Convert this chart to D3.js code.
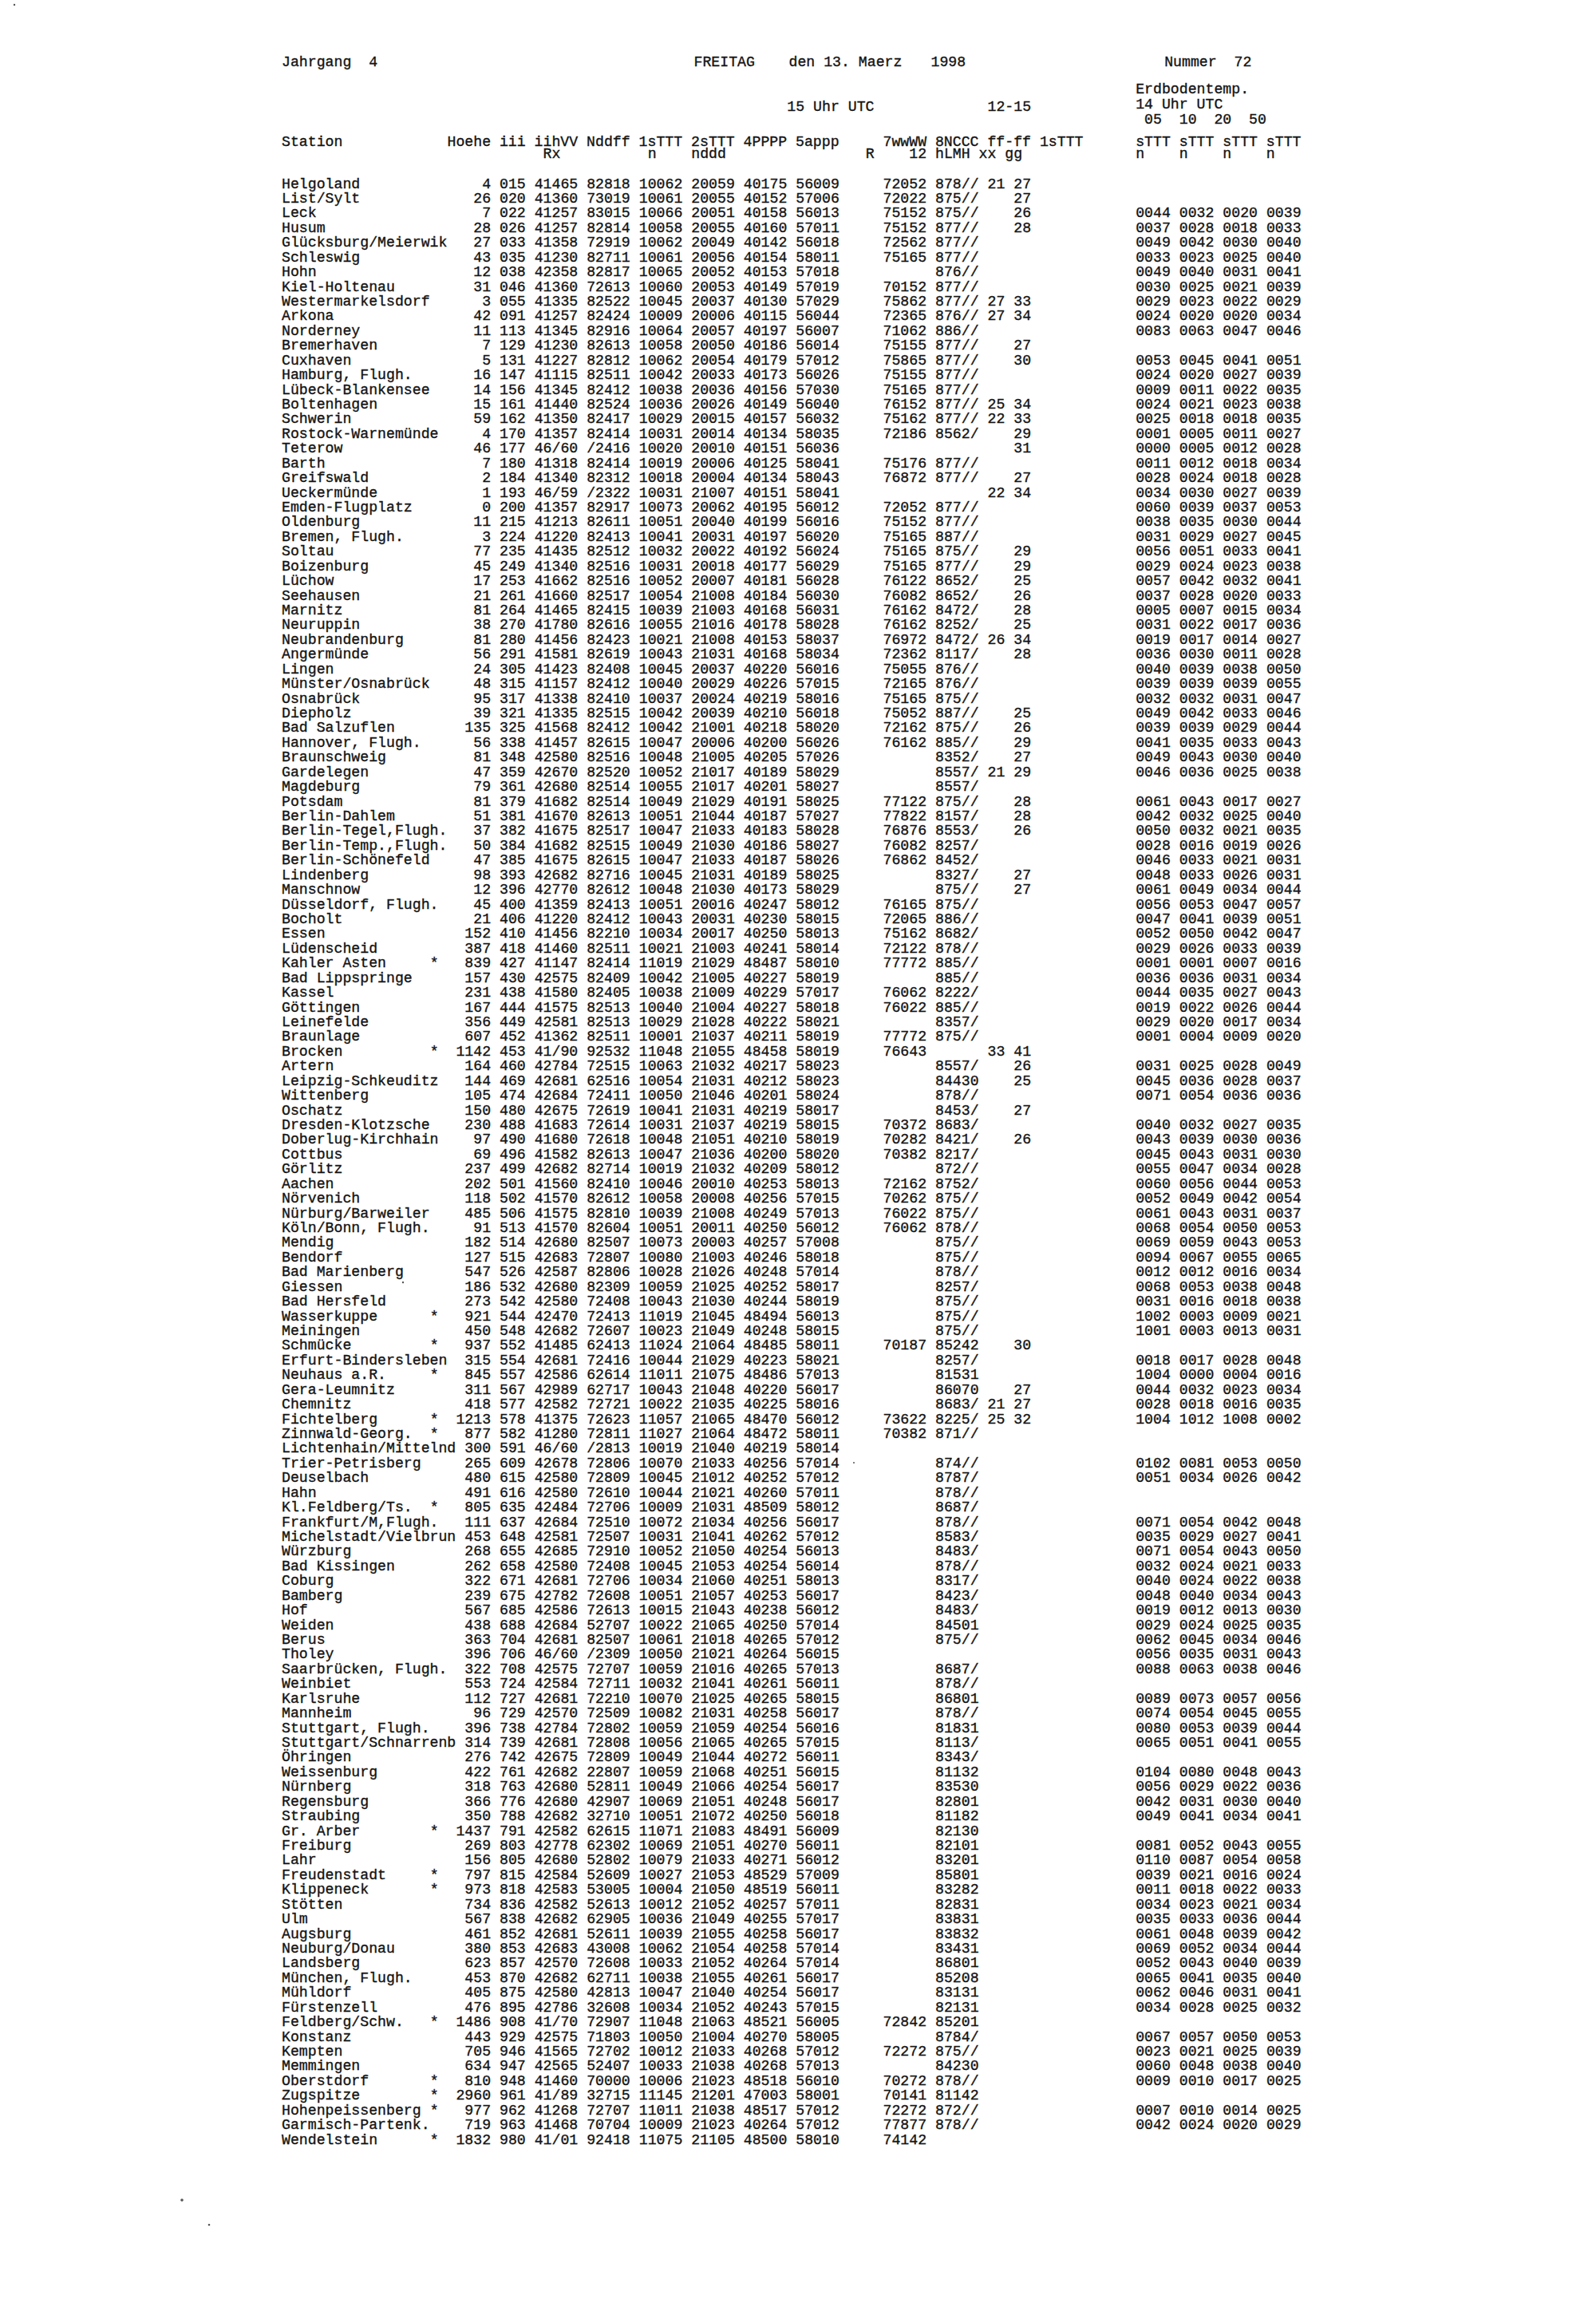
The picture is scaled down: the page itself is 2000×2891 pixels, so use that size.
<!DOCTYPE html>
<html>
<head>
<meta charset="utf-8">
<script src="https://cdn.jsdelivr.net/npm/d3@7"></script>
<style>
  body { margin: 0; background: #fff; }
  text { white-space: pre; }
</style>
</head>
<body>
<div id="page"></div>
<script>
// station list, one entry per table row
let stations = [
  "Helgoland","List/Sylt","Leck","Husum","Glücksburg/Meierwik","Schleswig","Hohn","Kiel-Holtenau","Westermarkelsdorf","Arkona",
  "Norderney","Bremerhaven","Cuxhaven","Hamburg, Flugh.","Lübeck-Blankensee","Boltenhagen","Schwerin","Rostock-Warnemünde","Teterow","Barth",
  "Greifswald","Ueckermünde","Emden-Flugplatz","Oldenburg","Bremen, Flugh.","Soltau","Boizenburg","Lüchow","Seehausen","Marnitz",
  "Neuruppin","Neubrandenburg","Angermünde","Lingen","Münster/Osnabrück","Osnabrück","Diepholz","Bad Salzuflen","Hannover, Flugh.","Braunschweig",
  "Gardelegen","Magdeburg","Potsdam","Berlin-Dahlem","Berlin-Tegel,Flugh.","Berlin-Temp.,Flugh.","Berlin-Schönefeld","Lindenberg","Manschnow","Düsseldorf, Flugh.",
  "Bocholt","Essen","Lüdenscheid","Kahler Asten","Bad Lippspringe","Kassel","Göttingen","Leinefelde","Braunlage","Brocken",
  "Artern","Leipzig-Schkeuditz","Wittenberg","Oschatz","Dresden-Klotzsche","Doberlug-Kirchhain","Cottbus","Görlitz","Aachen","Nörvenich",
  "Nürburg/Barweiler","Köln/Bonn, Flugh.","Mendig","Bendorf","Bad Marienberg","Giessen","Bad Hersfeld","Wasserkuppe","Meiningen","Schmücke",
  "Erfurt-Bindersleben","Neuhaus a.R.","Gera-Leumnitz","Chemnitz","Fichtelberg","Zinnwald-Georg.","Lichtenhain/Mittelnd","Trier-Petrisberg","Deuselbach","Hahn",
  "Kl.Feldberg/Ts.","Frankfurt/M,Flugh.","Michelstadt/Vielbrun","Würzburg","Bad Kissingen","Coburg","Bamberg","Hof","Weiden","Berus",
  "Tholey","Saarbrücken, Flugh.","Weinbiet","Karlsruhe","Mannheim","Stuttgart, Flugh.","Stuttgart/Schnarrenb","Öhringen","Weissenburg","Nürnberg",
  "Regensburg","Straubing","Gr. Arber","Freiburg","Lahr","Freudenstadt","Klippeneck","Stötten","Ulm","Augsburg",
  "Neuburg/Donau","Landsberg","München, Flugh.","Mühldorf","Fürstenzell","Feldberg/Schw.","Konstanz","Kempten","Memmingen","Oberstdorf",
  "Zugspitze","Hohenpeissenberg","Garmisch-Partenk.","Wendelstein"
];

// mountain stations marked with a star
let starred = ["Kahler Asten","Brocken","Wasserkuppe","Schmücke","Neuhaus a.R.","Fichtelberg","Zinnwald-Georg.",
  "Kl.Feldberg/Ts.","Gr. Arber","Freudenstadt","Klippeneck","Feldberg/Schw.","Oberstdorf","Zugspitze","Hohenpeissenberg","Wendelstein"];

let hoehe = [
  "4","26","7","28","27","43","12","31","3","42",
  "11","7","5","16","14","15","59","4","46","7",
  "2","1","0","11","3","77","45","17","21","81",
  "38","81","56","24","48","95","39","135","56","81",
  "47","79","81","51","37","50","47","98","12","45",
  "21","152","387","839","157","231","167","356","607","1142",
  "164","144","105","150","230","97","69","237","202","118",
  "485","91","182","127","547","186","273","921","450","937",
  "315","845","311","418","1213","877","300","265","480","491",
  "805","111","453","268","262","322","239","567","438","363",
  "396","322","553","112","96","396","314","276","422","318",
  "366","350","1437","269","156","797","973","734","567","461",
  "380","623","453","405","476","1486","443","705","634","810",
  "2960","977","719","1832"
];

let iii = [
  "015","020","022","026","033","035","038","046","055","091",
  "113","129","131","147","156","161","162","170","177","180",
  "184","193","200","215","224","235","249","253","261","264",
  "270","280","291","305","315","317","321","325","338","348",
  "359","361","379","381","382","384","385","393","396","400",
  "406","410","418","427","430","438","444","449","452","453",
  "460","469","474","480","488","490","496","499","501","502",
  "506","513","514","515","526","532","542","544","548","552",
  "554","557","567","577","578","582","591","609","615","616",
  "635","637","648","655","658","671","675","685","688","704",
  "706","708","724","727","729","738","739","742","761","763",
  "776","788","791","803","805","815","818","836","838","852",
  "853","857","870","875","895","908","929","946","947","948",
  "961","962","963","980"
];

let iihVV = [
  "41465","41360","41257","41257","41358","41230","42358","41360","41335","41257",
  "41345","41230","41227","41115","41345","41440","41350","41357","46/60","41318",
  "41340","46/59","41357","41213","41220","41435","41340","41662","41660","41465",
  "41780","41456","41581","41423","41157","41338","41335","41568","41457","42580",
  "42670","42680","41682","41670","41675","41682","41675","42682","42770","41359",
  "41220","41456","41460","41147","42575","41580","41575","42581","41362","41/90",
  "42784","42681","42684","42675","41683","41680","41582","42682","41560","41570",
  "41575","41570","42680","42683","42587","42680","42580","42470","42682","41485",
  "42681","42586","42989","42582","41375","41280","46/60","42678","42580","42580",
  "42484","42684","42581","42685","42580","42681","42782","42586","42684","42681",
  "46/60","42575","42584","42681","42570","42784","42681","42675","42682","42680",
  "42680","42682","42582","42778","42680","42584","42583","42582","42682","42681",
  "42683","42570","42682","42580","42786","41/70","42575","41565","42565","41460",
  "41/89","41268","41468","41/01"
];

let nddff = [
  "82818","73019","83015","82814","72919","82711","82817","72613","82522","82424",
  "82916","82613","82812","82511","82412","82524","82417","82414","/2416","82414",
  "82312","/2322","82917","82611","82413","82512","82516","82516","82517","82415",
  "82616","82423","82619","82408","82412","82410","82515","82412","82615","82516",
  "82520","82514","82514","82613","82517","82515","82615","82716","82612","82413",
  "82412","82210","82511","82414","82409","82405","82513","82513","82511","92532",
  "72515","62516","72411","72619","72614","72618","82613","82714","82410","82612",
  "82810","82604","82507","72807","82806","82309","72408","72413","72607","62413",
  "72416","62614","62717","72721","72623","72811","/2813","72806","72809","72610",
  "72706","72510","72507","72910","72408","72706","72608","72613","52707","82507",
  "/2309","72707","72711","72210","72509","72802","72808","72809","22807","52811",
  "42907","32710","62615","62302","52802","52609","53005","52613","62905","52611",
  "43008","72608","62711","42813","32608","72907","71803","72702","52407","70000",
  "32715","72707","70704","92418"
];

let sTTT1 = [
  "10062","10061","10066","10058","10062","10061","10065","10060","10045","10009",
  "10064","10058","10062","10042","10038","10036","10029","10031","10020","10019",
  "10018","10031","10073","10051","10041","10032","10031","10052","10054","10039",
  "10055","10021","10043","10045","10040","10037","10042","10042","10047","10048",
  "10052","10055","10049","10051","10047","10049","10047","10045","10048","10051",
  "10043","10034","10021","11019","10042","10038","10040","10029","10001","11048",
  "10063","10054","10050","10041","10031","10048","10047","10019","10046","10058",
  "10039","10051","10073","10080","10028","10059","10043","11019","10023","11024",
  "10044","11011","10043","10022","11057","11027","10019","10070","10045","10044",
  "10009","10072","10031","10052","10045","10034","10051","10015","10022","10061",
  "10050","10059","10032","10070","10082","10059","10056","10049","10059","10049",
  "10069","10051","11071","10069","10079","10027","10004","10012","10036","10039",
  "10062","10033","10038","10047","10034","11048","10050","10012","10033","10006",
  "11145","11011","10009","11075"
];

let sTTT2 = [
  "20059","20055","20051","20055","20049","20056","20052","20053","20037","20006",
  "20057","20050","20054","20033","20036","20026","20015","20014","20010","20006",
  "20004","21007","20062","20040","20031","20022","20018","20007","21008","21003",
  "21016","21008","21031","20037","20029","20024","20039","21001","20006","21005",
  "21017","21017","21029","21044","21033","21030","21033","21031","21030","20016",
  "20031","20017","21003","21029","21005","21009","21004","21028","21037","21055",
  "21032","21031","21046","21031","21037","21051","21036","21032","20010","20008",
  "21008","20011","20003","21003","21026","21025","21030","21045","21049","21064",
  "21029","21075","21048","21035","21065","21064","21040","21033","21012","21021",
  "21031","21034","21041","21050","21053","21060","21057","21043","21065","21018",
  "21021","21016","21041","21025","21031","21059","21065","21044","21068","21066",
  "21051","21072","21083","21051","21033","21053","21050","21052","21049","21055",
  "21054","21052","21055","21040","21052","21063","21004","21033","21038","21023",
  "21201","21038","21023","21105"
];

let pppp4 = [
  "40175","40152","40158","40160","40142","40154","40153","40149","40130","40115",
  "40197","40186","40179","40173","40156","40149","40157","40134","40151","40125",
  "40134","40151","40195","40199","40197","40192","40177","40181","40184","40168",
  "40178","40153","40168","40220","40226","40219","40210","40218","40200","40205",
  "40189","40201","40191","40187","40183","40186","40187","40189","40173","40247",
  "40230","40250","40241","48487","40227","40229","40227","40222","40211","48458",
  "40217","40212","40201","40219","40219","40210","40200","40209","40253","40256",
  "40249","40250","40257","40246","40248","40252","40244","48494","40248","48485",
  "40223","48486","40220","40225","48470","48472","40219","40256","40252","40260",
  "48509","40256","40262","40254","40254","40251","40253","40238","40250","40265",
  "40264","40265","40261","40265","40258","40254","40265","40272","40251","40254",
  "40248","40250","48491","40270","40271","48529","48519","40257","40255","40258",
  "40258","40264","40261","40254","40243","48521","40270","40268","40268","48518",
  "47003","48517","40264","48500"
];

let appp5 = [
  "56009","57006","56013","57011","56018","58011","57018","57019","57029","56044",
  "56007","56014","57012","56026","57030","56040","56032","58035","56036","58041",
  "58043","58041","56012","56016","56020","56024","56029","56028","56030","56031",
  "58028","58037","58034","56016","57015","58016","56018","58020","56026","57026",
  "58029","58027","58025","57027","58028","58027","58026","58025","58029","58012",
  "58015","58013","58014","58010","58019","57017","58018","58021","58019","58019",
  "58023","58023","58024","58017","58015","58019","58020","58012","58013","57015",
  "57013","56012","57008","58018","57014","58017","58019","56013","58015","58011",
  "58021","57013","56017","58016","56012","58011","58014","57014","57012","57011",
  "58012","56017","57012","56013","56014","58013","56017","56012","57014","57012",
  "56015","57013","56011","58015","56017","56016","57015","56011","56015","56017",
  "56017","56018","56009","56011","56012","57009","56011","57011","57017","56017",
  "57014","57014","56017","56017","57015","56005","58005","57012","57013","56010",
  "58001","57012","57012","58010"
];

// 12-15 block
let wwWW7 = [
  "72052","72022","75152","75152","72562","75165","","70152","75862","72365",
  "71062","75155","75865","75155","75165","76152","75162","72186","","75176",
  "76872","","72052","75152","75165","75165","75165","76122","76082","76162",
  "76162","76972","72362","75055","72165","75165","75052","72162","76162","",
  "","","77122","77822","76876","76082","76862","","","76165",
  "72065","75162","72122","77772","","76062","76022","","77772","76643",
  "","","","","70372","70282","70382","","72162","70262",
  "76022","76062","","","","","","","","70187",
  "","","","","73622","70382","","","","",
  "","","","","","","","","","",
  "","","","","","","","","","",
  "","","","","","","","","","",
  "","","","","","72842","","72272","","70272",
  "70141","72272","77877","74142"
];

let nccc8 = [
  "878//","875//","875//","877//","877//","877//","876//","877//","877//","876//",
  "886//","877//","877//","877//","877//","877//","877//","8562/","","877//",
  "877//","","877//","877//","887//","875//","877//","8652/","8652/","8472/",
  "8252/","8472/","8117/","876//","876//","875//","887//","875//","885//","8352/",
  "8557/","8557/","875//","8157/","8553/","8257/","8452/","8327/","875//","875//",
  "886//","8682/","878//","885//","885//","8222/","885//","8357/","875//","",
  "8557/","84430","878//","8453/","8683/","8421/","8217/","872//","8752/","875//",
  "875//","878//","875//","875//","878//","8257/","875//","875//","875//","85242",
  "8257/","81531","86070","8683/","8225/","871//","","874//","8787/","878//",
  "8687/","878//","8583/","8483/","878//","8317/","8423/","8483/","84501","875//",
  "","8687/","878//","86801","878//","81831","8113/","8343/","81132","83530",
  "82801","81182","82130","82101","83201","85801","83282","82831","83831","83832",
  "83431","86801","85208","83131","82131","85201","8784/","875//","84230","878//",
  "81142","872//","878//",""
];

let ffxx = [
  "21","","","","","","","","27","27",
  "","","","","","25","22","","","",
  "","22","","","","","","","","",
  "","26","","","","","","","","",
  "21","","","","","","","","","",
  "","","","","","","","","","33",
  "","","","","","","","","","",
  "","","","","","","","","","",
  "","","","21","25","","","","","",
  "","","","","","","","","","",
  "","","","","","","","","","",
  "","","","","","","","","","",
  "","","","","","","","","","",
  "","","",""
];

let ffgg = [
  "27","27","26","28","","","","","33","34",
  "","27","30","","","34","33","29","31","",
  "27","34","","","","29","29","25","26","28",
  "25","34","28","","","","25","26","29","27",
  "29","","28","28","26","","","27","27","",
  "","","","","","","","","","41",
  "26","25","","27","","26","","","","",
  "","","","","","","","","","30",
  "","","27","27","32","","","","","",
  "","","","","","","","","","",
  "","","","","","","","","","",
  "","","","","","","","","","",
  "","","","","","","","","","",
  "","","",""
];

// Erdbodentemp. 14 Uhr UTC, depths 05 / 10 / 20 / 50 cm
let soil05 = [
  "","","0044","0037","0049","0033","0049","0030","0029","0024",
  "0083","","0053","0024","0009","0024","0025","0001","0000","0011",
  "0028","0034","0060","0038","0031","0056","0029","0057","0037","0005",
  "0031","0019","0036","0040","0039","0032","0049","0039","0041","0049",
  "0046","","0061","0042","0050","0028","0046","0048","0061","0056",
  "0047","0052","0029","0001","0036","0044","0019","0029","0001","",
  "0031","0045","0071","","0040","0043","0045","0055","0060","0052",
  "0061","0068","0069","0094","0012","0068","0031","1002","1001","",
  "0018","1004","0044","0028","1004","","","0102","0051","",
  "","0071","0035","0071","0032","0040","0048","0019","0029","0062",
  "0056","0088","","0089","0074","0080","0065","","0104","0056",
  "0042","0049","","0081","0110","0039","0011","0034","0035","0061",
  "0069","0052","0065","0062","0034","","0067","0023","0060","0009",
  "","0007","0042",""
];
let soil10 = [
  "","","0032","0028","0042","0023","0040","0025","0023","0020",
  "0063","","0045","0020","0011","0021","0018","0005","0005","0012",
  "0024","0030","0039","0035","0029","0051","0024","0042","0028","0007",
  "0022","0017","0030","0039","0039","0032","0042","0039","0035","0043",
  "0036","","0043","0032","0032","0016","0033","0033","0049","0053",
  "0041","0050","0026","0001","0036","0035","0022","0020","0004","",
  "0025","0036","0054","","0032","0039","0043","0047","0056","0049",
  "0043","0054","0059","0067","0012","0053","0016","0003","0003","",
  "0017","0000","0032","0018","1012","","","0081","0034","",
  "","0054","0029","0054","0024","0024","0040","0012","0024","0045",
  "0035","0063","","0073","0054","0053","0051","","0080","0029",
  "0031","0041","","0052","0087","0021","0018","0023","0033","0048",
  "0052","0043","0041","0046","0028","","0057","0021","0048","0010",
  "","0010","0024",""
];
let soil20 = [
  "","","0020","0018","0030","0025","0031","0021","0022","0020",
  "0047","","0041","0027","0022","0023","0018","0011","0012","0018",
  "0018","0027","0037","0030","0027","0033","0023","0032","0020","0015",
  "0017","0014","0011","0038","0039","0031","0033","0029","0033","0030",
  "0025","","0017","0025","0021","0019","0021","0026","0034","0047",
  "0039","0042","0033","0007","0031","0027","0026","0017","0009","",
  "0028","0028","0036","","0027","0030","0031","0034","0044","0042",
  "0031","0050","0043","0055","0016","0038","0018","0009","0013","",
  "0028","0004","0023","0016","1008","","","0053","0026","",
  "","0042","0027","0043","0021","0022","0034","0013","0025","0034",
  "0031","0038","","0057","0045","0039","0041","","0048","0022",
  "0030","0034","","0043","0054","0016","0022","0021","0036","0039",
  "0034","0040","0035","0031","0025","","0050","0025","0038","0017",
  "","0014","0020",""
];
let soil50 = [
  "","","0039","0033","0040","0040","0041","0039","0029","0034",
  "0046","","0051","0039","0035","0038","0035","0027","0028","0034",
  "0028","0039","0053","0044","0045","0041","0038","0041","0033","0034",
  "0036","0027","0028","0050","0055","0047","0046","0044","0043","0040",
  "0038","","0027","0040","0035","0026","0031","0031","0044","0057",
  "0051","0047","0039","0016","0034","0043","0044","0034","0020","",
  "0049","0037","0036","","0035","0036","0030","0028","0053","0054",
  "0037","0053","0053","0065","0034","0048","0038","0021","0031","",
  "0048","0016","0034","0035","0002","","","0050","0042","",
  "","0048","0041","0050","0033","0038","0043","0030","0035","0046",
  "0043","0046","","0056","0055","0044","0055","","0043","0036",
  "0040","0041","","0055","0058","0024","0033","0034","0044","0042",
  "0044","0039","0040","0041","0032","","0053","0039","0040","0025",
  "","0025","0029",""
];

//page size
let svgWidth = 2000;
let svgHeight = 2891;

let page = d3.select('#page')
             .append('svg')
             .attr('width', svgWidth)
             .attr('height', svgHeight);

page.append('rect')
    .attr('width', svgWidth)
    .attr('height', svgHeight)
    .attr('fill', '#ffffff');

//slightly heavy ink like the scanned print
let sheet = page.append('g')
                .attr('font-family', '"Liberation Mono", "DejaVu Sans Mono", monospace')
                .attr('font-size', 18.2)
                .attr('fill', '#141414')
                .attr('stroke', '#141414')
                .attr('stroke-width', 0.35);

//typewriter grid: character column -> x, table row -> y
let colScale = d3.scaleLinear().domain([0, 100]).range([353, 353 + 1092]);
let rowScale = d3.scalePoint().domain(d3.range(stations.length)).range([229, 2680]);

//one column of the table
function drawField(values, col, anchor) {
    let cells = values.map((v, i) => ({v: v, i: i})).filter(d => d.v !== '');
    sheet.append('g')
         .selectAll('text')
         .data(cells)
         .enter()
         .append('text')
         .attr('x', colScale(col))
         .attr('y', d => rowScale(d.i))
         .attr('dy', '0.36em')
         .attr('text-anchor', anchor || 'start')
         .text(d => d.v);
}

drawField(stations, 0);
drawField(stations.map(s => starred.includes(s) ? '*' : ''), 17);
drawField(hoehe, 24, 'end');
drawField(iii, 25);
drawField(iihVV, 29);
drawField(nddff, 35);
drawField(sTTT1, 41);
drawField(sTTT2, 47);
drawField(pppp4, 53);
drawField(appp5, 59);
drawField(wwWW7, 69);
drawField(nccc8, 75);
drawField(ffxx, 81);
drawField(ffgg, 84);
drawField(soil05, 98);
drawField(soil10, 103);
drawField(soil20, 108);
drawField(soil50, 113);

//heading lines
function label(str, col, y) {
    sheet.append('text')
         .attr('x', colScale(col))
         .attr('y', y)
         .attr('dy', '0.36em')
         .text(str);
}

label('Jahrgang  4', 0, 76);
label('FREITAG', 47.3, 76);
label('den 13. Maerz', 58.2, 76);
label('1998', 74.5, 76);
label('Nummer  72', 101.3, 76);

label('Erdbodentemp.', 98, 110);
label('15 Uhr UTC', 58, 132);
label('12-15', 81, 132);
label('14 Uhr UTC', 98, 129);
label(' 05  10  20  50', 98, 148);

label('Station', 0, 176);
label('Hoehe iii iihVV Nddff 1sTTT 2sTTT 4PPPP 5appp', 19, 176);
label('7wwWW 8NCCC ff-ff 1sTTT', 69, 176);
label('sTTT sTTT sTTT sTTT', 98, 176);

label('Rx', 30, 191);
label('n', 42, 191);
label('nddd', 47, 191);
label('R', 67, 191);
label('12', 72, 191);
label('hLMH xx gg', 75, 191);
label('n    n    n    n', 98, 191);

//specks from the scan
let specks = [[505, 1607, 1.2], [1070, 1833, 1], [228, 2757, 1.8], [262, 2788, 1.3], [18, 6, 1.2]];
page.append('g')
    .selectAll('circle')
    .data(specks)
    .enter()
    .append('circle')
    .attr('cx', d => d[0])
    .attr('cy', d => d[1])
    .attr('r', d => d[2])
    .attr('fill', '#555');
</script>
</body>
</html>
